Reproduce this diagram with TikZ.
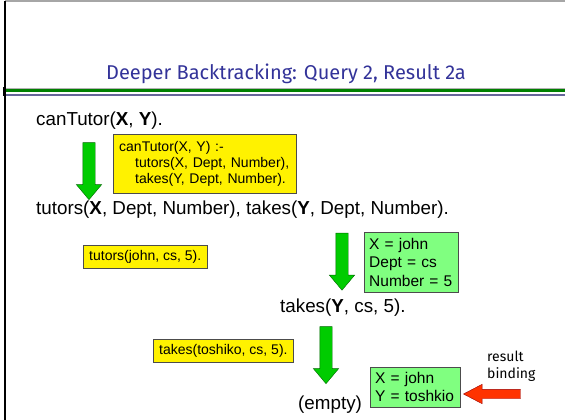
\documentclass[tikz,border=0pt]{standalone}
\usepackage{fontspec}
\setmainfont{Liberation Sans}
\newfontfamily\handfont{Fira Sans}
\usetikzlibrary{shapes.arrows}
\pgfdeclarelayer{edgelayer}
\pgfdeclarelayer{nodelayer}
\pgfsetlayers{edgelayer,nodelayer,main}
\definecolor{titleblue}{RGB}{51,51,153}
\definecolor{rulegreen}{RGB}{0,128,0}
\definecolor{ruleblue}{RGB}{102,102,153}
\definecolor{boxgreen}{RGB}{128,255,128}
\definecolor{arrowgreen}{RGB}{0,204,0}
\definecolor{arrowred}{RGB}{255,51,0}
\tikzstyle{none}=[inner sep=0pt]
\tikzstyle{goal}=[inner sep=0pt,anchor=west,font=\fontsize{18.8}{22}\selectfont]
\tikzstyle{fact}=[draw=black!70,fill=yellow,anchor=north west,align=left,inner xsep=6pt,inner ysep=6pt,font=\fontsize{14}{16}\selectfont]
\tikzstyle{binding}=[draw=black!70,fill=boxgreen,anchor=north west,align=left,inner xsep=5pt,inner ysep=6pt,font=\fontsize{15.5}{18.5}\selectfont]
\tikzstyle{derive}=[single arrow,draw=green!40!black,fill=arrowgreen,rotate=-90,inner xsep=0pt,inner ysep=6pt,minimum height=57pt,single arrow head extend=6.5pt,single arrow tip angle=80]
\tikzstyle{report}=[single arrow,draw=red!60!black,fill=arrowred,rotate=180,inner xsep=0pt,inner ysep=4.5pt,minimum height=57pt,single arrow head extend=5pt,single arrow tip angle=55]

\begin{document}
\begin{tikzpicture}[x=1pt,y=-1pt]
	\useasboundingbox (0,0) rectangle (565,420);
	\begin{pgfonlayer}{edgelayer}
		% slide frame and title rules
		\draw [gray!70,line width=2pt] (5,1.5) -- (565,1.5);
		\draw [black,line width=1.2pt] (5,1) -- (5,420);
		\draw [gray!60,line width=0.8pt] (3,88) -- (565,88);
		\fill [rulegreen] (3,88.7) rectangle (565,92.3);
		\draw [ruleblue,line width=1.5pt] (3,95) -- (565,95);
		\fill [black] (3,87) rectangle (6,96);
	\end{pgfonlayer}
	\begin{pgfonlayer}{nodelayer}
		\node [style=none,text=titleblue,font=\handfont\fontsize{20}{24}\selectfont] (title) at (286,74) {Deeper Backtracking: Query 2, Result 2a};
		\node [style=goal] (0) at (36,121) {canTutor(\textbf{X}, \textbf{Y}).};
		\node [style=fact,text width=171pt,inner ysep=7pt] (1) at (113,134) {canTutor(X, Y) :-\\\hspace*{16pt}tutors(X, Dept, Number),\\\hspace*{16pt}takes(Y, Dept, Number).};
		\node [style=goal] (2) at (36,210) {tutors(\textbf{X}, Dept, Number), takes(\textbf{Y}, Dept, Number).};
		\node [style=fact,inner ysep=5pt] (3) at (83,245) {tutors(john, cs, 5).};
		\node [style=binding,text width=84pt] (4) at (364,232) {X = john\\Dept = cs\\Number = 5};
		\node [style=goal] (5) at (280,308) {takes(\textbf{Y}, cs, 5).};
		\node [style=fact,inner ysep=5pt] (6) at (153,339) {takes(toshiko, cs, 5).};
		\node [style=goal] (7) at (298,405) {(empty)};
		\node [style=binding,text width=80pt,inner ysep=5pt] (8) at (370,367) {X = john\\Y = toshkio};
		\node [style=none,anchor=west,align=left,font=\handfont\fontsize{14}{17}\selectfont] (9) at (487,366) {result\\binding};
		% block arrows
		\node [style=derive] (10) at (89,167.5) {};
		\node [style=derive] (11) at (342,258) {};
		\node [style=derive] (12) at (326,351.5) {};
		\node [style=report] (13) at (496.5,394) {};
	\end{pgfonlayer}
\end{tikzpicture}
\end{document}
